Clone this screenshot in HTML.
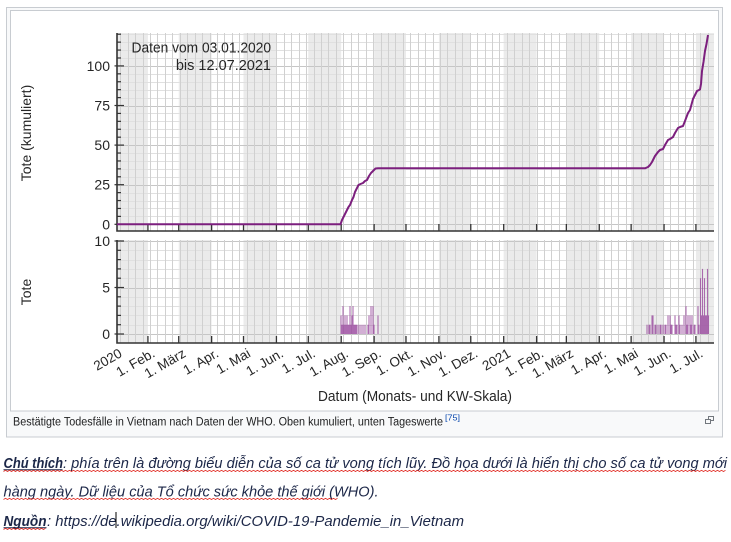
<!DOCTYPE html>
<html><head><meta charset="utf-8">
<style>
html,body{margin:0;padding:0;background:#fff;width:731px;height:542px;overflow:hidden}
svg{display:block}
text{font-family:"Liberation Sans","DejaVu Sans",sans-serif}
</style></head><body>
<svg id="s" width="731" height="542" viewBox="0 0 731 542" xmlns="http://www.w3.org/2000/svg">
<rect x="6.5" y="7.5" width="716" height="429.5" fill="#f8f9fa" stroke="#c8ccd1"/>
<rect x="10.5" y="10.5" width="708" height="400.5" fill="#fff" stroke="#c8ccd1"/>
<g id="g"></g>
<g id="t" fill="#262626">
<text x="131.5" y="52.3" font-size="14.5" textLength="139.5" lengthAdjust="spacingAndGlyphs">Daten vom 03.01.2020</text>
<text x="271" y="70" font-size="14.5" text-anchor="end">bis 12.07.2021</text>
<text transform="translate(31,133) rotate(-90)" font-size="14" text-anchor="middle">Tote (kumuliert)</text>
<text transform="translate(31,292) rotate(-90)" font-size="14" text-anchor="middle">Tote</text>
<text x="318" y="401" font-size="14.5" textLength="194" lengthAdjust="spacingAndGlyphs">Datum (Monats- und KW-Skala)</text>
</g>
<text x="13" y="425.5" font-size="11.5" fill="#202122" textLength="430" lengthAdjust="spacingAndGlyphs">Bestätigte Todesfälle in Vietnam nach Daten der WHO. Oben kumuliert, unten Tageswerte</text>
<text x="445" y="420.5" font-size="8.5" fill="#0645ad" textLength="15" lengthAdjust="spacingAndGlyphs">[75]</text>
<g fill="none" stroke="#72777d" stroke-width="1">
<rect x="708.5" y="416.5" width="5" height="4"/>
<rect x="705.5" y="419.5" width="5" height="4" fill="#f8f9fa"/>
</g>
<!-- Vietnamese caption -->
<g font-style="italic" fill="#1c2748" font-size="14.5">
<text x="3.5" y="468" font-weight="bold" textLength="59.5" lengthAdjust="spacingAndGlyphs">Chú thích</text>
<text x="63" y="468" textLength="664" lengthAdjust="spacingAndGlyphs">: phía trên là đường biểu diễn của số ca tử vong tích lũy. Đồ họa dưới là hiển thị cho số ca tử vong mới</text>
<text x="3.5" y="496.5" textLength="375" lengthAdjust="spacingAndGlyphs">hàng ngày. Dữ liệu của Tổ chức sức khỏe thế giới (WHO).</text>
<text x="3.5" y="526" font-weight="bold" textLength="43" lengthAdjust="spacingAndGlyphs">Nguồn</text>
<text x="47" y="526" textLength="417" lengthAdjust="spacingAndGlyphs">: https://de.wikipedia.org/wiki/COVID-19-Pandemie_in_Vietnam</text>
</g>
<line x1="3.5" x2="62.5" y1="469.8" y2="469.8" stroke="#1c2748" stroke-width="1"/>
<line x1="3.5" x2="46.5" y1="527.8" y2="527.8" stroke="#1c2748" stroke-width="1"/>
<line x1="116" x2="116" y1="512" y2="528" stroke="#000" stroke-width="1"/>
<g id="w" fill="none" stroke="#e0241c" stroke-width="0.8"></g>
</svg>
<script>
const NS="http://www.w3.org/2000/svg";
const g=document.getElementById('g');
function el(tag,attrs,txt,parent){const e=document.createElementNS(NS,tag);for(const k in attrs)e.setAttribute(k,attrs[k]);if(txt!=null)e.textContent=txt;(parent||g).appendChild(e);return e;}
const X=d=>115+1.062*d;
const L=117,R=714,T1=33,B1=231,T2=240,B2=343;
const Y1=v=>224.3-1.584*v, Y2=v=>334-9.3*v;
// shading
const shade=[[0,31],[60,91],[121,152],[182,213],[244,274],[305,335],[366,397],[425,456],[486,517],[547,600]];
for(const [a,b] of shade){const x1=Math.max(L,X(a)),x2=Math.min(R,X(b));
 el('rect',{x:x1,y:T1,width:x2-x1,height:B1-T1,fill:'#ebebeb'});
 el('rect',{x:x1,y:T2,width:x2-x1,height:B2-T2,fill:'#ebebeb'});}
// horizontal grid
for(let v=0;v<=120;v+=5){const y=Math.round(Y1(v))+0.5;el('line',{x1:L,x2:R,y1:y,y2:y,stroke:v%25?'#e0e0e0':'#c6c6c6','stroke-width':1});}
for(let v=0;v<=10;v++){const y=Math.round(Y2(v))+0.5;el('line',{x1:L,x2:R,y1:y,y2:y,stroke:v%5?'#e0e0e0':'#c6c6c6','stroke-width':1});}
// weekly lines
for(let d=5;X(d)<R;d+=7){const x=Math.round(X(d))+0.5;
 el('line',{x1:x,x2:x,y1:T1,y2:B1,stroke:'#d0d0d0','stroke-width':1});
 el('line',{x1:x,x2:x,y1:T2,y2:B2,stroke:'#d0d0d0','stroke-width':1});}
// bars
const bars=[[341,2],[342,1],[343,3],[344,1],[345,2],[346,1],[347,2],[348,1],[349,1],[350,3],[351,1],[352,2],[353,3],[354,1],[355,1],[356,1],[357,1],[359,1],[361,1],[363,1],[365,1],[368,1],[369,2],[371,3],[373,3],[374,1],[378,2],
[647,1],[649,1],[650,1],[652,2],[653,2],[655,1],[656,1],[658,1],[660,1],[661,1],[663,1],[665,1],[666,1],[668,2],[670,2],[671,1],[672,1],[675,2],[676,1],[677,1],[679,2],[680,1],[682,1],[684,2],[686,3],[687,1],[688,2],[690,2],[691,1],[692,2],[694,1],[695,1],[698,3],[699,1],[700.5,6],[701.5,2],[702.5,7],[703.5,2],[704.5,6],[705.5,2],[706.5,2],[707.5,7],[708.5,2]];
for(const [x,v] of bars){const y=Y2(v);el('rect',{x:x-0.55,y:y,width:1.1,height:Y2(0)-y,fill:'#9a4a9e','fill-opacity':0.8});}
// axes
el('path',{d:`M${L},${T1}V${B1}H${R}`,fill:'none',stroke:'#333','stroke-width':1.6});
el('path',{d:`M${L},${T2}V${B2}H${R}`,fill:'none',stroke:'#333','stroke-width':1.6});
for(let v=0;v<=120;v+=5){const y=Y1(v);const maj=v%25==0;el('line',{x1:maj?L-2.5:L,x2:maj?L+7:L+4,y1:y,y2:y,stroke:'#333','stroke-width':1.2});}
for(let v=0;v<=10;v++){const y=Y2(v);const maj=v%5==0;el('line',{x1:maj?L-2.5:L,x2:maj?L+7:L+4,y1:y,y2:y,stroke:'#333','stroke-width':1.2});}
const months=[[0,'2020'],[31,'1. Feb.'],[60,'1. März'],[91,'1. Apr.'],[121,'1. Mai'],[152,'1. Jun.'],[182,'1. Jul.'],[213,'1. Aug.'],[244,'1. Sep.'],[274,'1. Okt.'],[305,'1. Nov.'],[335,'1. Dez.'],[366,'2021'],[397,'1. Feb.'],[425,'1. März'],[456,'1. Apr.'],[486,'1. Mai'],[517,'1. Jun.'],[547,'1. Jul.']];
for(const [d,lab] of months){const x=X(d);
 if(d>0){el('line',{x1:x,x2:x,y1:B1-7,y2:B1,stroke:'#333','stroke-width':1.3});
 el('line',{x1:x,x2:x,y1:B2-7,y2:B2,stroke:'#333','stroke-width':1.3});}
 el('text',{transform:`translate(${x+8},356) rotate(-30)`,'text-anchor':'end','font-size':13.5,fill:'#262626'},lab);}
for(const v of [0,25,50,75,100]) el('text',{x:110,y:Y1(v)+5,'text-anchor':'end','font-size':14,fill:'#262626'},String(v));
for(const v of [0,5,10]) el('text',{x:110,y:Y2(v)+5,'text-anchor':'end','font-size':14,fill:'#262626'},String(v));
// curve
const pts=[[117,224.3],[340.5,224.3],[342,220],[343.5,217],[345,214],[347,210],[348.5,207],[350,205],[352,200],[353.5,197],[355,192],[357,188],[358.5,185],[360.5,184],[363,183],[365,181],[367,180],[369,176],[371,173],[373,171],[375.5,168.5],[378,168.3],[645,168.3],[648,167],[650,165],[652,162],[653.5,159],[655,156],[658,152],[660,150],[663,149],[665,145],[668,140],[670,139],[673,137],[675,133],[678,128],[680,127],[683,126],[685,121],[688,113],[690,110],[693,99],[695,95],[697,91],[700,89.5],[701,84],[702,71],[703.5,62],[705,51],[706.5,44],[708,35]];
el('polyline',{points:pts.map(p=>p.join(',')).join(' '),fill:'none',stroke:'#7c1f7e','stroke-width':2,'stroke-linejoin':'round'});
// wavy underlines
const w=document.getElementById('w');
function wavy(x1,x2,y){let d=`M${x1},${y}`;let up=true;for(let x=x1+2;x<=x2;x+=2){d+=`L${x},${up?y-1.2:y}`;up=!up;}el('path',{d:d},null,w);}
wavy(3.5,727,471.5);wavy(3.5,338,499.5);wavy(3.5,47,529.5);
</script>
</body></html>
